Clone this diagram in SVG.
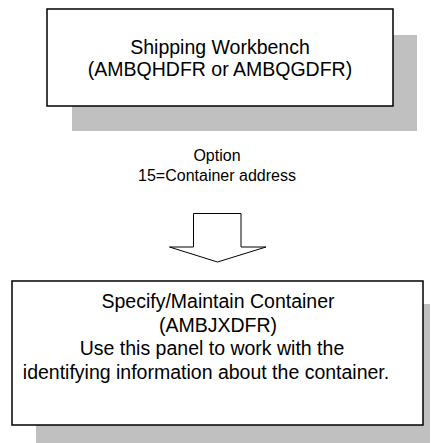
<svg xmlns="http://www.w3.org/2000/svg" width="432" height="443" viewBox="0 0 432 443">
<style>
.shadow{fill:#c0c0c0;stroke:none}
.box{fill:#fff;stroke:#000;stroke-width:1.5}
.t{font-family:"Liberation Sans",Arial,sans-serif;font-size:19.5px;fill:#000;text-anchor:middle}
.lbl{font-family:"Liberation Sans",Arial,sans-serif;font-size:16px;fill:#000;text-anchor:middle}
.arrow{fill:#fff;stroke:#000;stroke-width:1}
</style>
<rect width="432" height="443" fill="#fff"/>
<g id="node-shipping">
<rect class="shadow" x="72" y="35" width="345" height="96"/>
<rect class="box" x="47" y="9" width="346" height="97"/>
<text class="t" x="220" y="54">Shipping Workbench</text>
<text class="t" x="220" y="76">(AMBQHDFR or AMBQGDFR)</text>
</g>
<g id="connectors">
<text class="lbl" x="217" y="161">Option</text>
<text class="lbl" x="217" y="181">15=Container address</text>
<path class="arrow" d="M193.5 213.5 H241 V247 H266 L217.5 262 L169.5 247 H193.5 Z"/>
</g>
<g id="node-container">
<rect class="shadow" x="36" y="304" width="394" height="139"/>
<rect class="box" x="12" y="281" width="411" height="144"/>
<text class="t" x="218" y="308">Specify/Maintain Container</text>
<text class="t" x="218" y="332">(AMBJXDFR)</text>
<text class="t" x="212" y="355">Use this panel to work with the</text>
<text class="t" x="206" y="379">identifying information about the container.</text>
</g>
</svg>
